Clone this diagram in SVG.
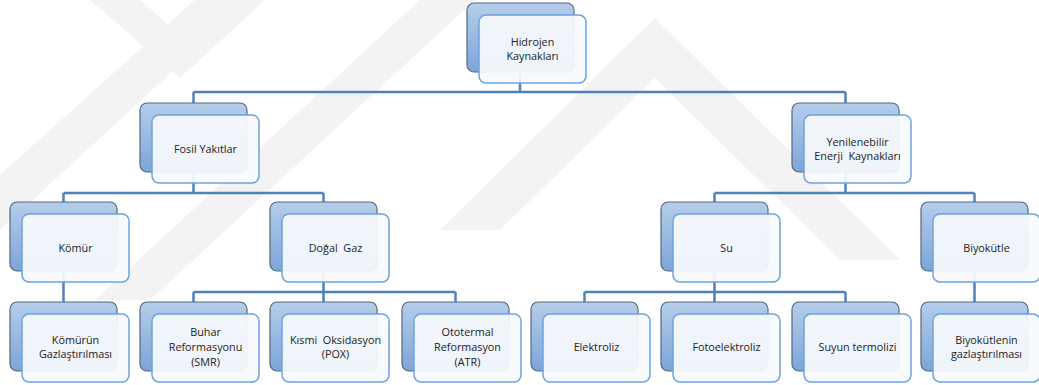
<svg xmlns="http://www.w3.org/2000/svg" width="1039" height="385" viewBox="0 0 1039 385">
<defs>
<linearGradient id="bg" x1="0" y1="0" x2="0" y2="1">
<stop offset="0" stop-color="#b5cdea"/>
<stop offset="1" stop-color="#7da5d8"/>
</linearGradient>
<style>
.back{fill:url(#bg);stroke:#56687d;stroke-width:1.2}
.front{fill:#f8fafd;fill-opacity:0.93;stroke:#6fa2dc;stroke-width:1.5}
.t{font-family:"Open Sans","Liberation Sans",sans-serif;font-size:10.8px;fill:#222222;text-anchor:middle;white-space:pre}
.c{fill:none;stroke:#4f81bd;stroke-width:2.5}
.wm{fill:#f3f3f3}
</style>
</defs>
<rect width="1039" height="385" fill="#ffffff"/>
<g id="watermark">
<polygon class="wm" points="90,0 140,0 180,35 220,0 265,0 180,78"/>
<polygon class="wm" points="0,175 0,230 250,0 195,0"/>
<polygon class="wm" points="95,300 150,300 475,0 420,0"/>
<polygon class="wm" points="440,230 500,230 655,78 840,260 900,260 655,18"/>
</g>
<g id="connectors">
<path class="c" d="M520,72 V92 M193.5,92 H845.5 M193.5,92 V103 M845.5,92 V103"/>
<path class="c" d="M193.5,172 V193 M63.5,193 H323.5 M63.5,193 V202 M323.5,193 V202"/>
<path class="c" d="M845.5,172 V193 M714.5,193 H974.5 M714.5,193 V202 M974.5,193 V202"/>
<path class="c" d="M63.5,271 V302"/>
<path class="c" d="M323.5,271 V292 M193.5,292 H455.5 M193.5,292 V302 M323.5,292 V302 M455.5,292 V302"/>
<path class="c" d="M714.5,271 V292 M584.5,292 H845.5 M584.5,292 V302 M714.5,292 V302 M845.5,292 V302"/>
<path class="c" d="M974.5,271 V302"/>
</g>
<g id="n-hidrojen">
<rect class="back" x="467" y="3" width="107" height="69" rx="7"/>
<rect class="front" x="479" y="15" width="107" height="68" rx="7"/>
<text class="t" x="532.5" y="46">Hidrojen</text>
<text class="t" x="532.5" y="60">Kaynakları</text>
</g>
<g id="n-fosil">
<rect class="back" x="140" y="103" width="107" height="69" rx="7"/>
<rect class="front" x="152" y="115" width="107" height="68" rx="7"/>
<text class="t" x="205.5" y="153">Fosil Yakıtlar</text>
</g>
<g id="n-yenilenebilir">
<rect class="back" x="792" y="103" width="107" height="69" rx="7"/>
<rect class="front" x="804" y="115" width="107" height="68" rx="7"/>
<text class="t" x="857.5" y="146">Yenilenebilir</text>
<text class="t" x="857.5" y="160">Enerji  Kaynakları</text>
</g>
<g id="n-komur">
<rect class="back" x="10" y="202" width="107" height="69" rx="7"/>
<rect class="front" x="22" y="214" width="107" height="68" rx="7"/>
<text class="t" x="75.5" y="252">Kömür</text>
</g>
<g id="n-dogalgaz">
<rect class="back" x="270" y="202" width="107" height="69" rx="7"/>
<rect class="front" x="282" y="214" width="107" height="68" rx="7"/>
<text class="t" x="335.5" y="252">Doğal  Gaz</text>
</g>
<g id="n-su">
<rect class="back" x="661" y="202" width="107" height="69" rx="7"/>
<rect class="front" x="673" y="214" width="107" height="68" rx="7"/>
<text class="t" x="726.5" y="252">Su</text>
</g>
<g id="n-biyokutle">
<rect class="back" x="921" y="202" width="107" height="69" rx="7"/>
<rect class="front" x="933" y="214" width="107" height="68" rx="7"/>
<text class="t" x="986.5" y="252">Biyokütle</text>
</g>
<g id="n-komurun">
<rect class="back" x="10" y="302" width="107" height="69" rx="7"/>
<rect class="front" x="22" y="314" width="107" height="68" rx="7"/>
<text class="t" x="75.5" y="344">Kömürün</text>
<text class="t" x="75.5" y="358">Gazlaştırılması</text>
</g>
<g id="n-buhar">
<rect class="back" x="140" y="302" width="107" height="69" rx="7"/>
<rect class="front" x="152" y="314" width="107" height="68" rx="7"/>
<text class="t" x="205.5" y="336">Buhar</text>
<text class="t" x="205.5" y="351">Reformasyonu</text>
<text class="t" x="205.5" y="366">(SMR)</text>
</g>
<g id="n-kismi">
<rect class="back" x="270" y="302" width="107" height="69" rx="7"/>
<rect class="front" x="282" y="314" width="107" height="68" rx="7"/>
<text class="t" x="335.5" y="344">Kısmi  Oksidasyon</text>
<text class="t" x="335.5" y="358">(POX)</text>
</g>
<g id="n-ototermal">
<rect class="back" x="402" y="302" width="107" height="69" rx="7"/>
<rect class="front" x="414" y="314" width="107" height="68" rx="7"/>
<text class="t" x="467.5" y="336">Ototermal</text>
<text class="t" x="467.5" y="351">Reformasyon</text>
<text class="t" x="467.5" y="366">(ATR)</text>
</g>
<g id="n-elektroliz">
<rect class="back" x="531" y="302" width="107" height="69" rx="7"/>
<rect class="front" x="543" y="314" width="107" height="68" rx="7"/>
<text class="t" x="596.5" y="351">Elektroliz</text>
</g>
<g id="n-fotoelektroliz">
<rect class="back" x="661" y="302" width="107" height="69" rx="7"/>
<rect class="front" x="673" y="314" width="107" height="68" rx="7"/>
<text class="t" x="726.5" y="351">Fotoelektroliz</text>
</g>
<g id="n-suyun">
<rect class="back" x="792" y="302" width="107" height="69" rx="7"/>
<rect class="front" x="804" y="314" width="107" height="68" rx="7"/>
<text class="t" x="857.5" y="351">Suyun termolizi</text>
</g>
<g id="n-biyokutlenin">
<rect class="back" x="921" y="302" width="107" height="69" rx="7"/>
<rect class="front" x="933" y="314" width="107" height="68" rx="7"/>
<text class="t" x="986.5" y="344">Biyokütlenin</text>
<text class="t" x="986.5" y="358">gazlaştırılması</text>
</g>
</svg>
